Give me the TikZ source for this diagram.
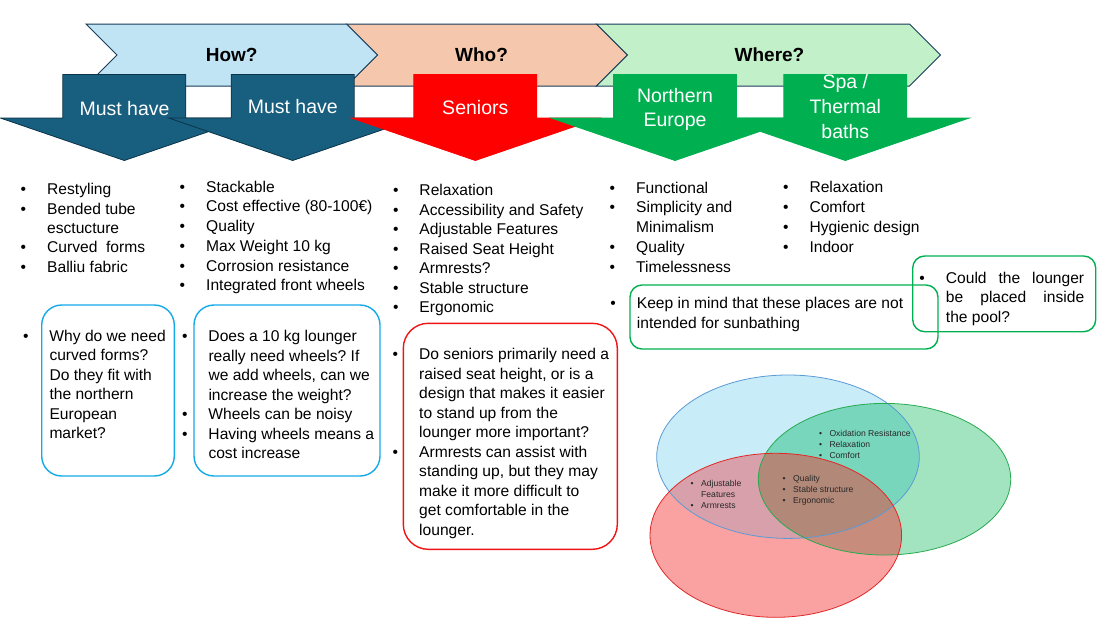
\documentclass[tikz,border=0pt]{standalone}
\usepackage{fontspec}
\setmainfont{Liberation Sans}
\usetikzlibrary{shapes.geometric}
\frenchspacing
\definecolor{howfill}{RGB}{193,228,245}
\definecolor{whofill}{RGB}{245,200,174}
\definecolor{wherefill}{RGB}{194,240,200}
\definecolor{chevline}{RGB}{25,60,90}
\definecolor{mhfill}{RGB}{24,94,127}
\definecolor{mhline}{RGB}{12,52,72}
\definecolor{sred}{RGB}{255,0,0}
\definecolor{sgreen}{RGB}{0,176,80}
\definecolor{qblue}{RGB}{20,170,232}
\definecolor{qred}{RGB}{240,20,20}
\definecolor{qgreen}{RGB}{0,176,80}
\definecolor{vbluealone}{RGB}{200,236,248}
\definecolor{vgreenalone}{RGB}{163,228,192}
\definecolor{vredalone}{RGB}{250,162,162}
\definecolor{vbg}{RGB}{120,214,188}
\definecolor{vbr}{RGB}{215,160,170}
\definecolor{vrg}{RGB}{200,140,125}
\definecolor{vall}{RGB}{178,136,120}
\definecolor{vblueline}{RGB}{91,155,213}
\definecolor{vgreenline}{RGB}{40,170,80}
\definecolor{vredline}{RGB}{225,40,40}
\definecolor{vtext}{RGB}{40,40,40}
\def\bw{26.5pt}
\newcommand\bl{\makebox[\bw][l]{\textbullet}}
\newcommand\nb{\hspace*{\bw}}
\newcommand\itemlist[7]{%
  \def\bw{#6pt}%
  \foreach \itm [count=\i from 0] in {#7}{%
    \node[#1] (#2-\i) at ({#3-#6},{#4+\i*#5}) {\itm};}}
\newcommand\darr[3]{%
  \draw[fill=#2, draw=#3, line width=0.8pt, line join=miter]
    ({#1-61.5},74.5) -- ({#1+61.5},74.5) -- ({#1+61.5},118) -- ({#1+124},118)
    -- (#1,160.5) -- ({#1-124},118) -- ({#1-61.5},118) -- cycle;}
\def\vpB{(788,456.7) ellipse [x radius=131.3, y radius=81.7]}
\def\vpG{(884.5,479.2) ellipse [x radius=126.2, y radius=75.8]}
\def\vpR{(775.8,535.3) ellipse [x radius=125.8, y radius=82]}
\begin{document}
\frenchspacing
\begin{tikzpicture}[x=1pt,y=-1pt,
  chev/.style={draw=chevline, line width=1pt, line join=miter},
  txt/.style={anchor=base west, inner sep=0pt, font=\fontsize{15.6}{19}\selectfont},
  vtxt/.style={anchor=base west, inner sep=0pt, text=vtext, font=\fontsize{8.6}{10}\selectfont},
  wtxt/.style={anchor=base, inner sep=0pt, text=white, font=\fontsize{19.5}{24}\selectfont},
  head/.style={anchor=base, inner sep=0pt, font=\fontsize{19}{23}\selectfont\bfseries},
  callout/.style={draw=#1, line width=1.4pt, inner sep=0pt, outer sep=0pt},
  venn/.style={ellipse, inner sep=0pt, outer sep=0pt, line width=0.8pt}
]
\useasboundingbox[fill=white] (0,0) rectangle (1107,630);

% chevrons
\draw[chev, fill=whofill] (346.5,24) -- (596.5,24) -- (627.5,55) -- (596.5,86) -- (346.5,86) -- (377.5,55) -- cycle;
\draw[chev, fill=wherefill] (596.5,24) -- (909.5,24) -- (940.5,55) -- (909.5,86) -- (596.5,86) -- (627.5,55) -- cycle;
\draw[chev, fill=howfill] (86,24) -- (346.5,24) -- (377.5,55) -- (346.5,86) -- (86,86) -- (117,55) -- cycle;
\node[head] (how) at (231.7,61.8) {How?};
\node[head] (who) at (481.5,61.8) {Who?};
\node[head] (where) at (769.5,61.8) {Where?};

% down arrows
\darr{124.3}{mhfill}{mhline}
\darr{292.7}{mhfill}{mhline}
\darr{475.3}{sred}{sred}
\darr{675}{sgreen}{sgreen}
\darr{845.3}{sgreen}{sgreen}
\node[wtxt] (mh1) at (124.5,115.3) {Must have};
\node[wtxt] (mh2) at (292.8,113.7) {Must have};
\node[wtxt] (sen) at (475.3,114.3) {Seniors};
\node[wtxt] (ne1) at (675,102) {Northern};
\node[wtxt] (ne2) at (675,126.3) {Europe};
\node[wtxt] (spa1) at (845.3,88.7) {Spa /};
\node[wtxt] (spa2) at (845.3,113.7) {Thermal};
\node[wtxt] (spa3) at (845.3,138.7) {baths};

% lists
\itemlist{txt}{l1}{47}{194.8}{19.35}{26.5}{\bl Restyling, \bl Bended tube, \nb esctucture, \bl Curved\ \ forms, \bl Balliu fabric}
\itemlist{txt}{l2}{206}{192.2}{19.7}{26.5}{\bl Stackable, \bl Cost effective (80-100€), \bl Quality, \bl Max Weight 10 kg, \bl Corrosion resistance, \bl Integrated front wheels}
\itemlist{txt}{l3}{419.3}{195.5}{19.55}{26.5}{\bl Relaxation, \bl Accessibility and Safety, \bl Adjustable Features, \bl Raised Seat Height, \bl Armrests?, \bl Stable structure, \bl Ergonomic}
\itemlist{txt}{l4}{636}{193.2}{19.75}{26.5}{\bl Functional, \bl Simplicity and, \nb Minimalism, \bl Quality, \bl Timelessness}
\itemlist{txt}{l5}{809.3}{192.8}{19.8}{26.5}{\bl Relaxation, \bl Comfort, \bl Hygienic design, \bl Indoor}

% question boxes
\node[callout=qblue, rounded corners=20pt, minimum width=132.6pt, minimum height=171pt] (q1) at (108,390.5) {};
\node[callout=qblue, rounded corners=20pt, minimum width=186pt, minimum height=171pt] (q2) at (287,390.5) {};
\node[callout=qred, rounded corners=25pt, minimum width=214pt, minimum height=226pt] (q3) at (510.3,436.3) {};
\node[callout=qgreen, rounded corners=12pt, minimum width=308pt, minimum height=64pt] (qa) at (784,317) {};
\node[callout=qgreen, rounded corners=12pt, minimum width=183pt, minimum height=75.7pt] (qb) at (1004.2,293.85) {};

\itemlist{txt}{t1}{49.3}{341.5}{19.45}{26.5}{\bl Why do we need, \nb curved forms?, \nb Do they fit with, \nb the northern, \nb European, \nb market?}
\itemlist{txt}{t2}{208.3}{341.5}{19.55}{26.5}{\bl Does a 10 kg lounger, \nb really need wheels? If, {\nb we add wheels, can we}, \nb increase the weight?, \bl Wheels can be noisy, \bl Having wheels means a, \nb cost increase}
\itemlist{txt}{t3}{419}{359.8}{19.5}{26.5}{\bl Do seniors primarily need a, {\nb raised seat height, or is a}, \nb design that makes it easier, \nb to stand up from the, \nb lounger more important?, \bl Armrests can assist with, {\nb standing up, but they may}, \nb make it more difficult to, \nb get comfortable in the, \nb lounger.}
\itemlist{txt}{ta}{636.7}{308.8}{19.7}{26.5}{\bl Keep in mind that these places are not, \nb intended for sunbathing}
\itemlist{txt}{tb}{945.7}{283.2}{19.5}{26.5}{\bl\makebox[138.3pt][s]{Could the lounger}, \nb\makebox[138.3pt][s]{be placed inside}, \nb the pool?}

% Venn regions
\fill[vbluealone] \vpB;
\fill[vgreenalone] \vpG;
\fill[vredalone] \vpR;
\begin{scope}
  \clip \vpB;
  \fill[vbg] \vpG;
  \fill[vbr] \vpR;
\end{scope}
\begin{scope}
  \clip \vpG;
  \fill[vrg] \vpR;
  \clip \vpB;
  \fill[vall] \vpR;
\end{scope}
\node[venn, draw=vblueline, minimum width=262.6pt, minimum height=163.4pt] (vb) at (788,456.7) {};
\node[venn, draw=vgreenline, minimum width=252.4pt, minimum height=151.6pt] (vg) at (884.5,479.2) {};
\node[venn, draw=vredline, minimum width=251.6pt, minimum height=164pt] (vr) at (775.8,535.3) {};
\itemlist{vtxt}{v1}{829.3}{436.3}{10.85}{10.5}{\bl Oxidation Resistance, \bl Relaxation, \bl Comfort}
\itemlist{vtxt}{v2}{793}{481.7}{10.65}{10.5}{\bl Quality, \bl Stable structure, \bl Ergonomic}
\itemlist{vtxt}{v3}{701}{486.3}{10.85}{10.5}{\bl Adjustable, \nb Features, \bl Armrests}
\end{tikzpicture}
\end{document}
